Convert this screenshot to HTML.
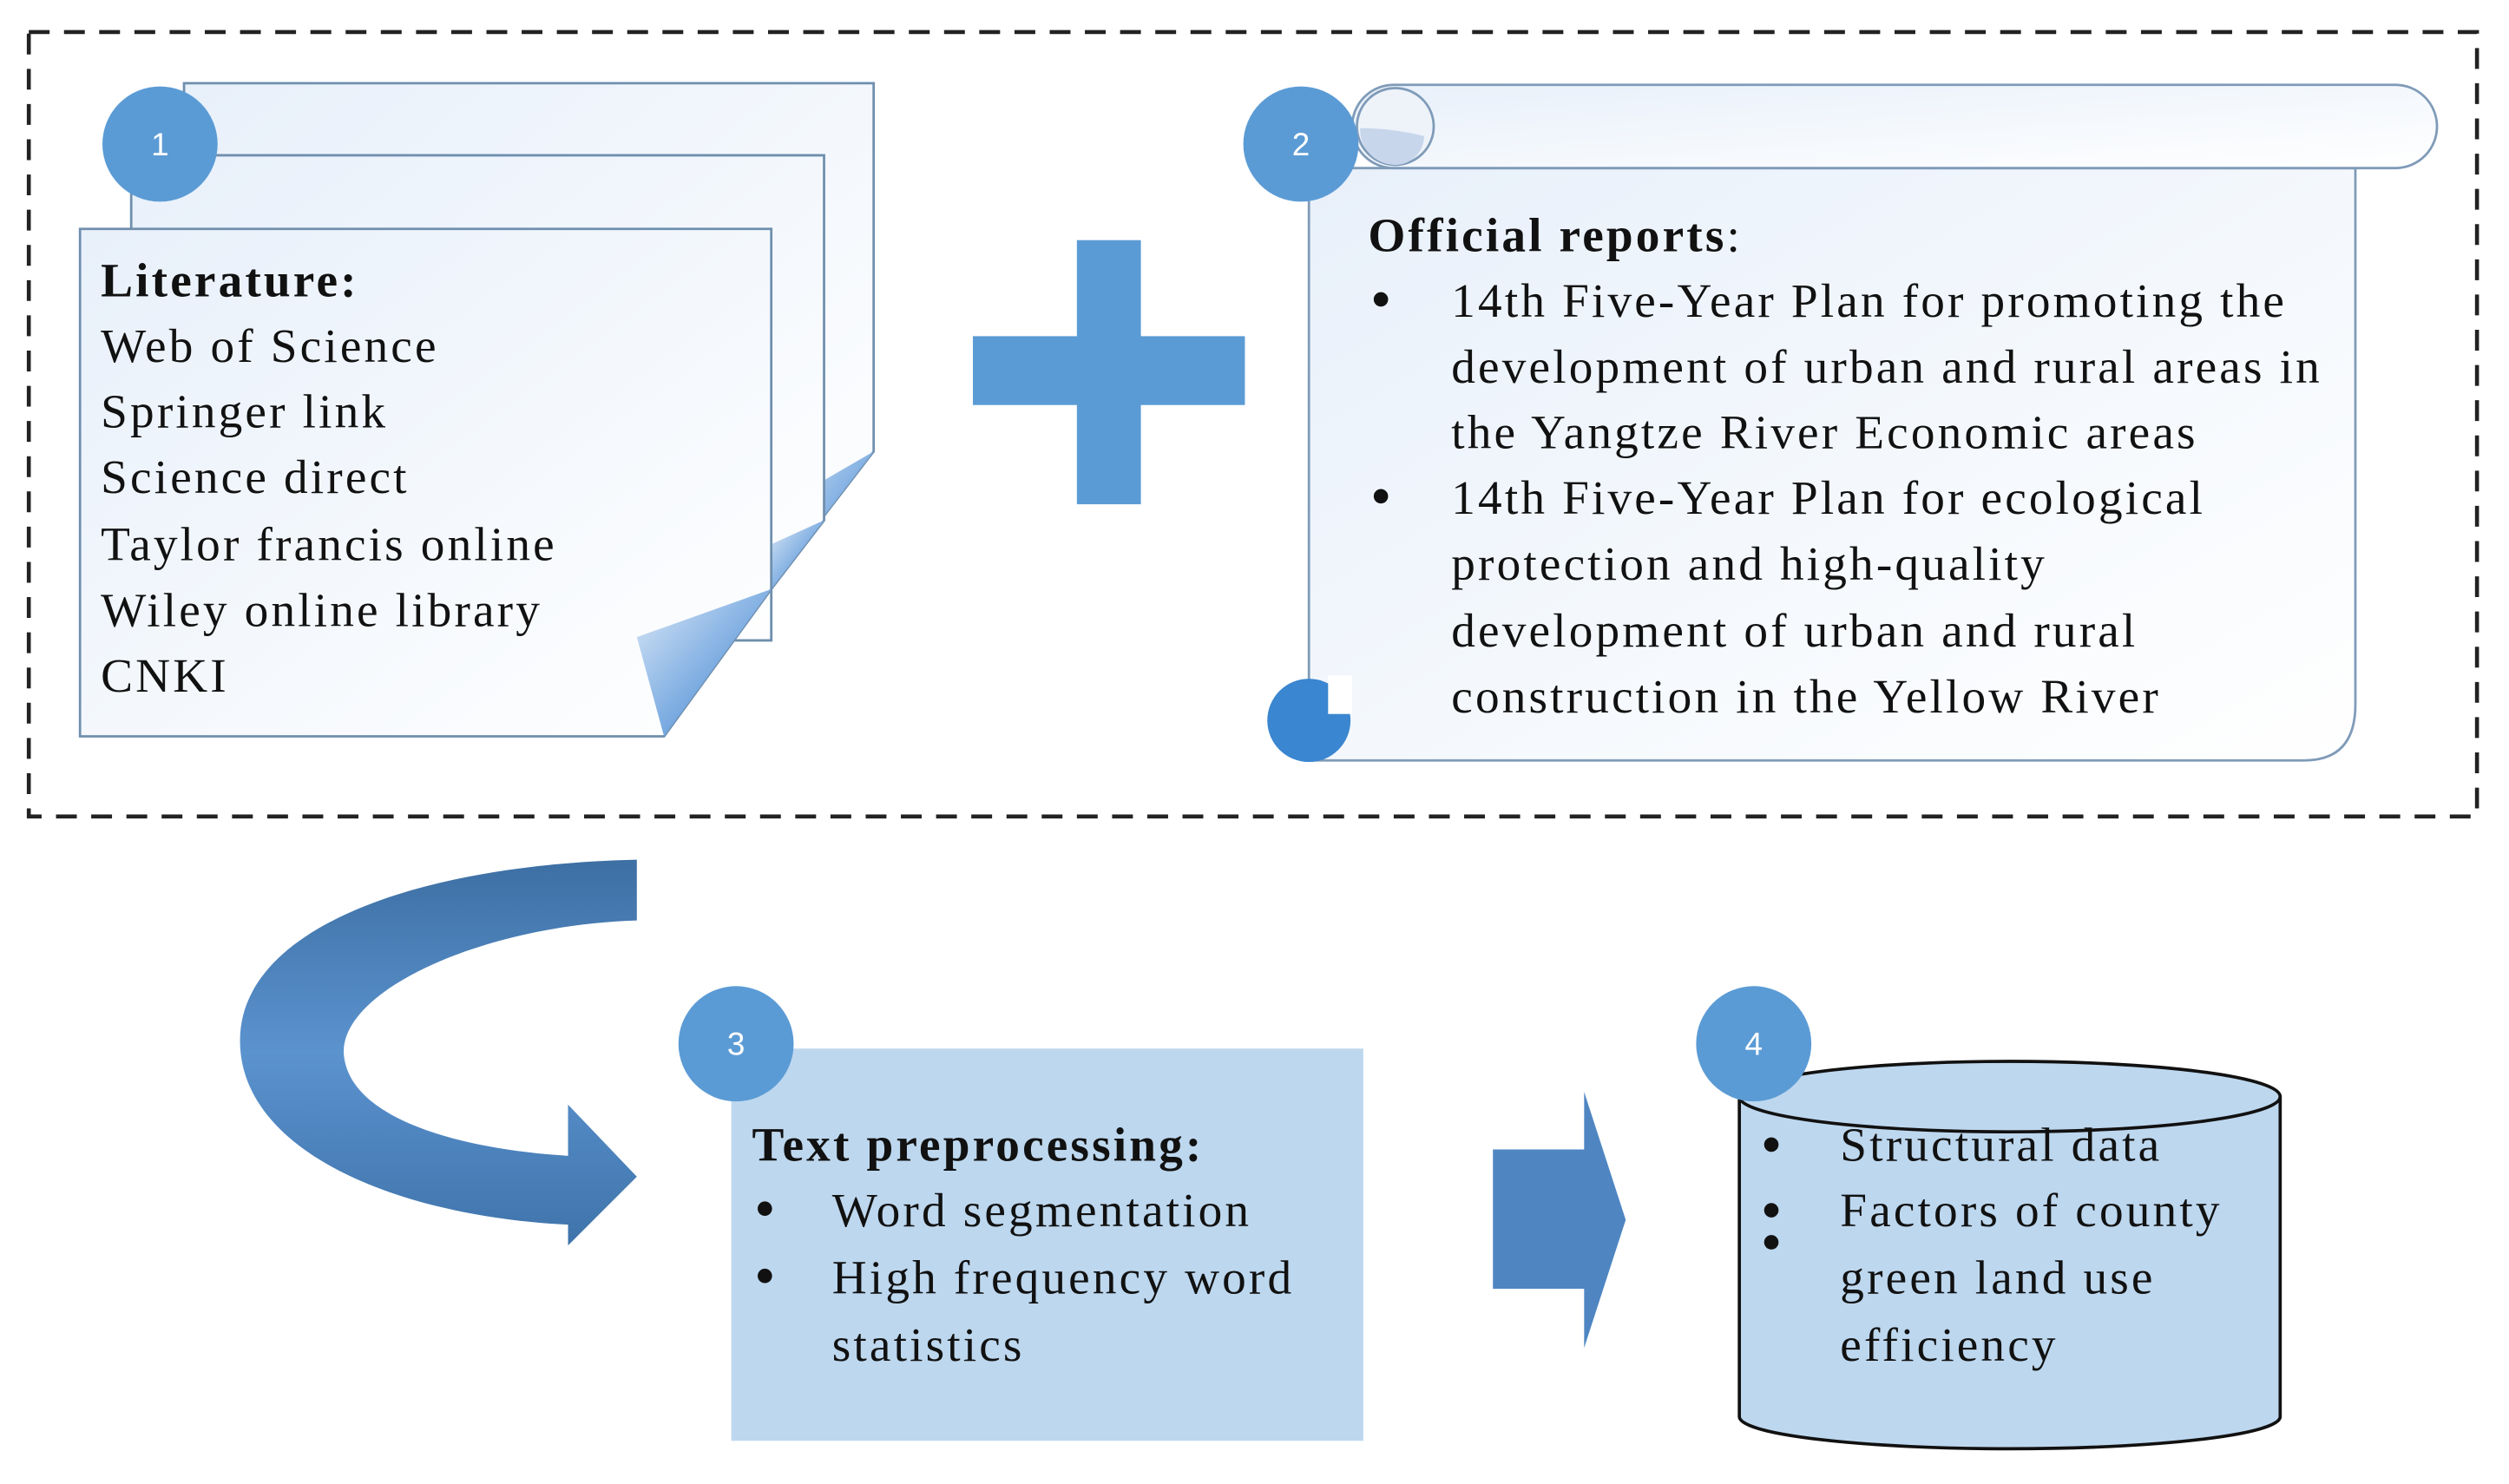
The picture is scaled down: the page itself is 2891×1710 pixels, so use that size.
<!DOCTYPE html>
<html><head><meta charset="utf-8"><style>
html,body{margin:0;padding:0;background:#fff;}
svg{display:block;}
text{font-family:"Liberation Serif",serif;font-size:30px;fill:#111;letter-spacing:1.7px;}
.n{font-family:"Liberation Sans",sans-serif;font-size:20px;fill:#fff;text-anchor:middle;letter-spacing:0;}
</style></head><body>
<svg width="2891" height="1710" viewBox="0 0 1568 927" preserveAspectRatio="none" xmlns="http://www.w3.org/2000/svg">
<defs>
<linearGradient id="pg" x1="0" y1="0" x2="1" y2="1"><stop offset="0" stop-color="#e8f0fa"/><stop offset="1" stop-color="#ffffff"/></linearGradient>
<linearGradient id="fold" x1="0" y1="0" x2="1" y2="1"><stop offset="0" stop-color="#dce9f7"/><stop offset="1" stop-color="#2f7bd0"/></linearGradient>
<linearGradient id="arc" x1="0" y1="0" x2="0" y2="1"><stop offset="0" stop-color="#3d6fa3"/><stop offset="0.5" stop-color="#5b93cf"/><stop offset="1" stop-color="#3f73aa"/></linearGradient>
</defs>
<rect x="18" y="20" width="1530" height="490" fill="none" stroke="#222" stroke-width="2.5" stroke-dasharray="13 9"/>

<!-- pages -->
<path d="M115 52 H546 V282 L482 365 V400 H115 Z" fill="url(#pg)" stroke="#6f8fae" stroke-width="1.5"/>
<path d="M546 282 L515 300 L482 365 Z" fill="url(#fold)"/>
<path d="M82 97 H515 V325 L482 368 V400 H82 Z" fill="url(#pg)" stroke="#6f8fae" stroke-width="1.5"/>
<path d="M515 325 L482 340 L482 368 Z" fill="url(#fold)"/>
<path d="M50 143 H482 V368 L415 460 H50 Z" fill="url(#pg)" stroke="#6f8fae" stroke-width="1.5"/>
<path d="M482 368 L398 398 L415 460 Z" fill="url(#fold)"/>
<circle cx="100" cy="90" r="36" fill="#5b9bd5"/><text class="n" x="100" y="97">1</text>
<text x="63" y="185" font-weight="bold">Literature:</text>
<text x="63" y="226">Web of Science</text>
<text x="63" y="267">Springer link</text>
<text x="63" y="308">Science direct</text>
<text x="63" y="350">Taylor francis online</text>
<text x="63" y="391">Wiley online library</text>
<text x="63" y="432">CNKI</text>

<!-- plus -->
<rect x="673" y="150" width="40" height="165" fill="#5b9bd5"/>
<rect x="608" y="210" width="170" height="43" fill="#5b9bd5"/>

<!-- scroll -->
<path d="M845 105 H1472 V440 Q1472 475 1440 475 H818 V105 Z" fill="url(#pg)" stroke="#7f9bb8" stroke-width="1.5"/>
<rect x="845" y="53" width="678" height="52" rx="26" fill="url(#pg)" stroke="#7f9bb8" stroke-width="1.5"/>
<circle cx="872" cy="79" r="24" fill="#eef3fa" stroke="#7f9bb8" stroke-width="1.5"/>
<path d="M850 80 A22 22 0 0 0 872 103 A18 18 0 0 0 890 85 Q870 80 850 80 Z" fill="#c8d6ec"/>
<circle cx="818" cy="450" r="26" fill="#3a86d0"/>
<rect x="830" y="422" width="15" height="24" fill="#fff"/>
<circle cx="813" cy="90" r="36" fill="#5b9bd5"/><text class="n" x="813" y="97">2</text>
<text x="855" y="157" font-weight="bold">Official reports<tspan font-weight="normal">:</tspan></text>
<g>
<circle cx="863" cy="187" r="4.5" fill="#111"/><circle cx="863" cy="310" r="4.5" fill="#111"/>
<text x="907" y="198">14th Five-Year Plan for promoting the</text>
<text x="907" y="239">development of urban and rural areas in</text>
<text x="907" y="280">the Yangtze River Economic areas</text>
<text x="907" y="321">14th Five-Year Plan for ecological</text>
<text x="907" y="362">protection and high-quality</text>
<text x="907" y="404">development of urban and rural</text>
<text x="907" y="445">construction in the Yellow River</text>
</g>

<!-- curved arrow -->
<path d="M398 537 V575 C300 578 210 620 215 660 C220 700 290 718 355 722 V690 L398 735 L355 778 V765 C250 760 150 720 150 650 C150 580 260 540 398 537 Z" fill="url(#arc)"/>

<!-- box 3 -->
<rect x="457" y="655" width="395" height="245" fill="#bdd7ee"/>
<circle cx="460" cy="652" r="36" fill="#5b9bd5"/><text class="n" x="460" y="659">3</text>
<text x="470" y="725" font-weight="bold">Text preprocessing:</text>
<circle cx="478" cy="755" r="4.5" fill="#111"/><circle cx="478" cy="797" r="4.5" fill="#111"/>
<text x="520" y="766">Word segmentation</text>
<text x="520" y="808">High frequency word</text>
<text x="520" y="850">statistics</text>

<!-- right arrow -->
<path d="M933 718 H990 V682 L1016 762 L990 842 V805 H933 Z" fill="#4f86c2"/>

<!-- cylinder -->
<path d="M1087 685 V885 A169 20 0 0 0 1425 885 V685" fill="#bdd7ee" stroke="#111" stroke-width="2"/>
<ellipse cx="1256" cy="685" rx="169" ry="22" fill="#bdd7ee" stroke="#111" stroke-width="2"/>
<circle cx="1096" cy="652" r="36" fill="#5b9bd5"/><text class="n" x="1096" y="659">4</text>
<circle cx="1107" cy="715" r="4.5" fill="#111"/><circle cx="1107" cy="756" r="4.5" fill="#111"/><circle cx="1107" cy="776" r="4.5" fill="#111"/>
<text x="1150" y="725">Structural data</text>
<text x="1150" y="766">Factors of county</text>
<text x="1150" y="808">green land use</text>
<text x="1150" y="850">efficiency</text>
</svg>
</body></html>
